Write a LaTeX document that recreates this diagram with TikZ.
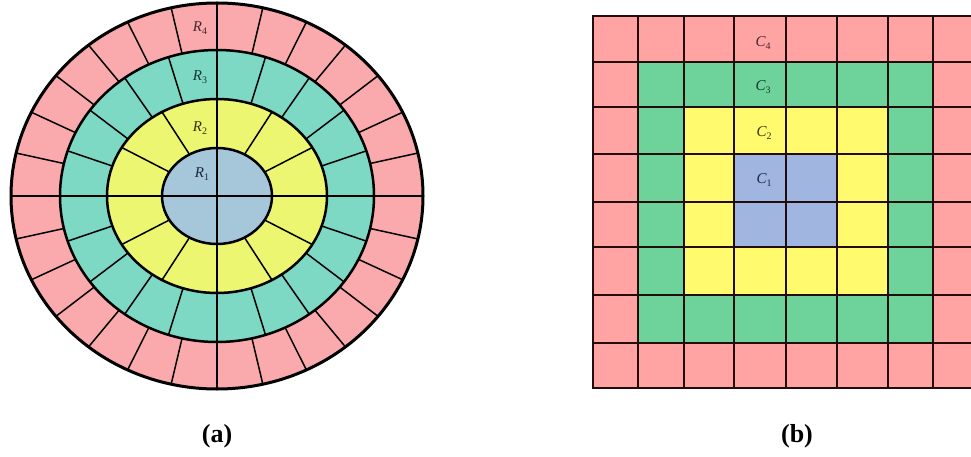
\documentclass[tikz,border=0pt]{standalone}
\usepackage{fontspec}
\setmainfont{Liberation Serif}
\definecolor{rpink}{RGB}{250,170,172}
\definecolor{rteal}{RGB}{125,216,196}
\definecolor{ryellow}{RGB}{236,246,112}
\definecolor{rblue}{RGB}{166,198,218}
\definecolor{cell0}{RGB}{255,163,163}
\definecolor{cell1}{RGB}{110,210,155}
\definecolor{cell2}{RGB}{255,250,110}
\definecolor{cell3}{RGB}{160,182,225}
\definecolor{gline}{RGB}{35,12,12}
\definecolor{lab4}{RGB}{70,40,50}
\definecolor{lab3}{RGB}{20,55,50}
\definecolor{lab2}{RGB}{50,50,15}
\definecolor{lab1}{RGB}{25,40,65}
\newcommand{\lab}[2]{{\itshape #1}\raisebox{-2.5pt}{\fontsize{10}{10}\selectfont #2}}
\tikzset{
  ringline/.style={line width=2.5pt, black},
  outerline/.style={line width=3pt, black},
  spoke/.style={line width=1.5pt, black},
  gridline/.style={line width=1.7pt, gline},
  lbl/.style={font=\fontsize{15}{17}\selectfont, inner sep=0pt},
  captext/.style={font=\fontsize{26}{28}\selectfont\bfseries, inner sep=0pt}
}
\begin{document}
\begin{tikzpicture}[x=1pt,y=-1pt]
\useasboundingbox (0,0) rectangle (971,457);
\clip (0,0) rectangle (971,457);
% ---------- (a) elliptic rings ----------
\coordinate (O) at (217,196);
\fill[rpink] (O) ellipse [x radius=206, y radius=193];
\fill[rteal] (O) ellipse [x radius=157, y radius=146];
\fill[ryellow] (O) ellipse [x radius=110, y radius=97];
\fill[rblue] (O) ellipse [x radius=55, y radius=48];
% spokes
\foreach \i in {0,...,27}{
  \pgfmathsetmacro\a{\i*360/28}
  \draw[spoke] ({217+157*cos(\a)},{196+146*sin(\a)}) -- ({217+206*cos(\a)},{196+193*sin(\a)});
}
\foreach \i in {0,...,19}{
  \pgfmathsetmacro\a{\i*18}
  \draw[spoke] ({217+110*cos(\a)},{196+97*sin(\a)}) -- ({217+157*cos(\a)},{196+146*sin(\a)});
}
\foreach \i in {0,...,11}{
  \pgfmathsetmacro\a{\i*30}
  \draw[spoke] ({217+55*cos(\a)},{196+48*sin(\a)}) -- ({217+110*cos(\a)},{196+97*sin(\a)});
}
\draw[spoke] (162,196) -- (272,196);
\draw[spoke] (217,148) -- (217,244);
% ring outlines
\draw[ringline] (O) ellipse [x radius=55, y radius=48];
\draw[ringline] (O) ellipse [x radius=110, y radius=97];
\draw[ringline] (O) ellipse [x radius=157, y radius=146];
\draw[outerline] (O) ellipse [x radius=206, y radius=193];
% labels
\node[lbl, text=lab4] (r4) at (200,28) {\lab{R}{4}};
\node[lbl, text=lab3] (r3) at (200,77) {\lab{R}{3}};
\node[lbl, text=lab2] (r2) at (200,128) {\lab{R}{2}};
\node[lbl, text=lab1] (r1) at (202,174) {\lab{R}{1}};
% ---------- (b) square grid ----------
\foreach \xa/\xb [count=\i from 0] in {593/638,638/684,684/734,734/786,786/837,837/888,888/933,933/978}{
  \foreach \ya/\yb [count=\j from 0] in {16/62,62/107,107/154,154/202,202/247,247/295,295/343,343/388}{
    \pgfmathtruncatemacro\L{min(min(\i,7-\i),min(\j,7-\j))}
    \fill[cell\L] (\xa,\ya) rectangle (\xb,\yb);
  }
}
\foreach \x in {593,638,684,734,786,837,888,933}{
  \draw[gridline] (\x,16) -- (\x,388);
}
\foreach \y in {16,62,107,154,202,247,295,343,388}{
  \draw[gridline] (593,\y) -- (980,\y);
}
\draw[line width=2.2pt, gline] (593,15) -- (593,389);
\node[lbl, text=lab4] (c4) at (763,43) {\lab{C}{4}};
\node[lbl, text=lab3] (c3) at (763,87) {\lab{C}{3}};
\node[lbl, text=lab2] (c2) at (764,133) {\lab{C}{2}};
\node[lbl, text=lab1] (c1) at (764,180) {\lab{C}{1}};
% captions
\node[captext] (capa) at (217,436) {(a)};
\node[captext] (capb) at (797,436) {(b)};
\end{tikzpicture}
\end{document}
